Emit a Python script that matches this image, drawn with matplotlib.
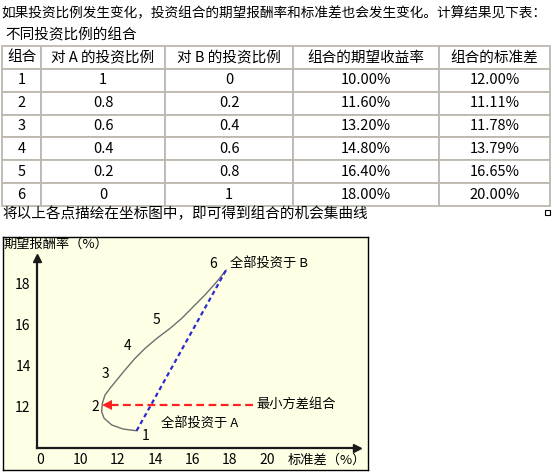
import matplotlib.pyplot as plt
from matplotlib.patches import Rectangle

plt.rcParams['font.family'] = ['Noto Sans CJK SC', 'DejaVu Sans']

intro_text = "如果投资比例发生变化，投资组合的期望报酬率和标准差也会发生变化。计算结果见下表："
table_title = "不同投资比例的组合"
outro_text = "将以上各点描绘在坐标图中，即可得到组合的机会集曲线"

# table data
col_labels = ["组合", "对 A 的投资比例", "对 B 的投资比例", "组合的期望收益率", "组合的标准差"]
combo = ["1", "2", "3", "4", "5", "6"]
weight_a = ["1", "0.8", "0.6", "0.4", "0.2", "0"]
weight_b = ["0", "0.2", "0.4", "0.6", "0.8", "1"]
exp_return = ["10.00%", "11.60%", "13.20%", "14.80%", "16.40%", "18.00%"]
std_dev = ["12.00%", "11.11%", "11.78%", "13.79%", "16.65%", "20.00%"]

# sketch of the opportunity set (x = 标准差, y = 期望报酬率)
curve_x = [13.02, 12.31, 11.69, 11.28, 11.15, 11.19, 11.33, 11.60, 11.96, 12.40,
           12.93, 13.47, 14.09, 14.80, 15.43, 16.05, 16.67, 17.30, 17.80]
curve_y = [10.84, 10.92, 11.12, 11.45, 11.77, 12.18, 12.58, 12.91, 13.31, 13.80,
           14.36, 14.85, 15.33, 15.82, 16.31, 16.88, 17.45, 18.09, 18.66]
line_x = [13.02, 17.80]
line_y = [10.84, 18.66]
minvar_x = [19.24, 11.55]
minvar_head_x = 11.42
minvar_y = 12.09

point_names = ["1", "2", "3", "4", "5", "6"]
point_x = [13.52, 10.83, 11.33, 12.52, 14.06, 17.12]
point_y = [10.58, 12.01, 13.59, 14.96, 16.23, 18.95]

x_ticks = [7.85, 10, 12, 14, 16, 18, 20]
x_tick_labels = ["0", "10", "12", "14", "16", "18", "20"]
y_ticks = [12, 14, 16, 18]

W, H = 553, 474


def box(l, t, r, b):
    # pixel box -> figure fraction
    return [l / W, 1 - b / H, (r - l) / W, (b - t) / H]


fig = plt.figure(figsize=(W / 100, H / 100), dpi=100)

fig.text(1 / W, 1 - 13 / H, intro_text, fontsize=9.85, va='center')
fig.text(5 / W, 1 - 35 / H, table_title, fontsize=10.5, va='center')
fig.text(2 / W, 1 - 214 / H, outro_text, fontsize=10.5, va='center')
fig.add_artist(Rectangle((545 / W, 1 - 215 / H), 5 / W, 5 / H, transform=fig.transFigure,
                         fill=False, lw=0.8, edgecolor='black'))

# table
tax = fig.add_axes(box(2, 46, 550, 206))
tax.axis('off')
rows = [list(r) for r in zip(combo, weight_a, weight_b, exp_return, std_dev)]
tbl = tax.table(cellText=rows, colLabels=col_labels, colWidths=[39, 124, 128, 146, 111],
                cellLoc='center', bbox=[0, 0, 1, 1])
tbl.auto_set_font_size(False)
tbl.set_fontsize(10.5)
for cell in tbl.get_celld().values():
    cell.set_edgecolor('#BDB9B0')
    cell.set_linewidth(1.3)

# chart frame
bg = fig.add_axes(box(3, 237, 368, 470))
bg.set_facecolor('#FFFFE6')
bg.set_xticks([])
bg.set_yticks([])
for s in bg.spines.values():
    s.set_linewidth(1)
    s.set_color('black')

ax = fig.add_axes(box(37, 258, 357, 448))
ax.set_facecolor('none')
ax.set_xlim(7.695, 24.80)
ax.set_ylim(10, 19.25)
ax.spines[['top', 'right']].set_visible(False)
for s in ['left', 'bottom']:
    ax.spines[s].set_linewidth(1.6)
    ax.spines[s].set_color('#1a1a1a')
ax.plot([1], [0], marker='>', color='#1a1a1a', ms=6, transform=ax.transAxes, clip_on=False)
ax.plot([0], [1], marker='^', color='#1a1a1a', ms=6, transform=ax.transAxes, clip_on=False)

ax.set_xticks(x_ticks, x_tick_labels)
ax.set_yticks(y_ticks, [str(v) for v in y_ticks])
ax.tick_params(axis='x', length=0, labelsize=10, pad=3.5)
ax.tick_params(axis='y', length=0, labelsize=10, pad=4.5)

ax.plot(curve_x, curve_y, color='#6e6e6e', lw=1)
ax.plot(line_x, line_y, color='#2b2bd0', lw=1.6, linestyle=(0, (2, 1.5)))
ax.plot(minvar_x, [minvar_y, minvar_y], color='#ff2020', lw=1.6, linestyle=(0, (3.5, 2)))
ax.plot([minvar_head_x], [minvar_y], marker='<', color='#ff2020', ms=7, mew=0)

for name, px, py in zip(point_names, point_x, point_y):
    ax.text(px, py, name, fontsize=10, ha='center', va='center')

ax.text(18.01, 19.0, "全部投资于 B", fontsize=9.5, va='center')
ax.text(19.40, 12.14, "最小方差组合", fontsize=9.5, va='center')
ax.text(14.32, 11.22, "全部投资于 A", fontsize=9.5, va='center')
ax.text(21.11, 9.42, "标准差（%）", fontsize=9.5, va='center')
ax.text(5.88, 19.93, "期望报酬率（%）", fontsize=9.5, va='center')

fig.savefig('out.png', dpi=100)
